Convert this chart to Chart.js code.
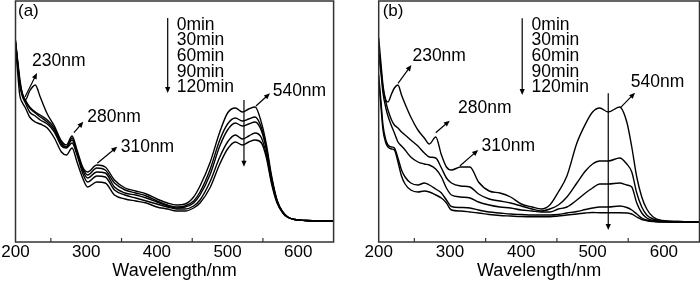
<!DOCTYPE html>
<html>
<head>
<meta charset="utf-8">
<script src="https://cdn.jsdelivr.net/npm/chart.js@4.4.1/dist/chart.umd.min.js"></script>
<style>
  html, body { margin: 0; padding: 0; background: #fff; }
  #wrap { position: relative; width: 700px; height: 282px; }
  .panel { position: absolute; top: 0; width: 350px; height: 282px; }
</style>
</head>
<body>
<div id="wrap">
  <div class="panel" style="left:0"><canvas id="graficoA" width="350" height="282"></canvas></div>
  <div class="panel" style="left:350px"><canvas id="graficoB" width="350" height="282"></canvas></div>
</div>
<script>
// legend / time labels
const timeLabels = ["0min", "30min", "60min", "90min", "120min"];
const xTicks = [200, 300, 400, 500, 600];
const minorTicks = [250, 350, 450, 550];

// panel (a) wavelengths (nm) and absorbance (arb. units)
const wavelengthsA = [200, 203, 206, 210, 214, 220, 228, 235, 245, 255, 265, 272, 280, 287, 295, 302, 315, 327, 340, 355, 370, 385, 400, 415, 428, 440, 452, 461, 475, 489, 500, 511, 521, 530, 539, 548, 555, 562, 570, 578, 585, 595, 610, 630, 650];
const absA0 = [2.02, 1.82, 1.64, 1.47, 1.42, 1.51, 1.57, 1.45, 1.28, 1.16, 1.01, 0.97, 1.06, 0.92, 0.75, 0.70, 0.77, 0.75, 0.62, 0.54, 0.51, 0.48, 0.43, 0.39, 0.37, 0.38, 0.45, 0.56, 0.79, 1.10, 1.29, 1.34, 1.30, 1.33, 1.35, 1.19, 0.97, 0.67, 0.42, 0.30, 0.25, 0.225, 0.215, 0.21, 0.21];
const absA30 = [2.00, 1.80, 1.60, 1.48, 1.42, 1.35, 1.30, 1.27, 1.22, 1.14, 0.99, 0.95, 1.04, 0.90, 0.74, 0.67, 0.74, 0.72, 0.59, 0.52, 0.49, 0.46, 0.41, 0.37, 0.35, 0.36, 0.41, 0.50, 0.72, 1.02, 1.18, 1.24, 1.21, 1.23, 1.25, 1.14, 0.94, 0.65, 0.41, 0.30, 0.25, 0.225, 0.215, 0.21, 0.21];
const absA60 = [2.00, 1.79, 1.59, 1.47, 1.41, 1.34, 1.29, 1.25, 1.20, 1.12, 0.98, 0.95, 1.02, 0.89, 0.72, 0.64, 0.70, 0.69, 0.55, 0.49, 0.47, 0.44, 0.40, 0.36, 0.34, 0.35, 0.39, 0.47, 0.67, 0.96, 1.12, 1.19, 1.16, 1.18, 1.20, 1.11, 0.92, 0.64, 0.41, 0.30, 0.25, 0.225, 0.215, 0.21, 0.21];
const absA90 = [2.00, 1.78, 1.57, 1.45, 1.39, 1.30, 1.26, 1.22, 1.18, 1.10, 0.96, 0.94, 0.99, 0.87, 0.69, 0.60, 0.66, 0.65, 0.52, 0.47, 0.44, 0.41, 0.38, 0.35, 0.33, 0.33, 0.36, 0.42, 0.60, 0.85, 1.00, 1.07, 1.03, 1.06, 1.09, 1.04, 0.87, 0.61, 0.40, 0.295, 0.25, 0.225, 0.215, 0.21, 0.21];
const absA120 = [1.94, 1.70, 1.47, 1.39, 1.34, 1.25, 1.20, 1.18, 1.14, 1.04, 0.90, 0.87, 0.94, 0.80, 0.64, 0.55, 0.60, 0.59, 0.47, 0.43, 0.41, 0.39, 0.35, 0.33, 0.31, 0.31, 0.34, 0.39, 0.54, 0.78, 0.93, 1.00, 0.97, 1.00, 1.02, 0.99, 0.84, 0.59, 0.39, 0.29, 0.245, 0.225, 0.215, 0.21, 0.21];

// panel (b)
const wavelengthsB = [200, 203, 206, 210, 213, 218, 222, 227, 232, 237, 245, 255, 264, 271, 280, 288, 295, 302, 315, 328, 340, 355, 370, 385, 400, 415, 428, 440, 452, 464, 478, 490, 500, 510, 522, 538, 548, 555, 562, 569, 576, 585, 598, 620, 650];
const absB0 = [2.04, 1.80, 1.57, 1.42, 1.40, 1.48, 1.54, 1.57, 1.47, 1.38, 1.25, 1.12, 1.04, 0.98, 1.05, 0.87, 0.75, 0.72, 0.75, 0.75, 0.60, 0.51, 0.49, 0.45, 0.38, 0.35, 0.33, 0.37, 0.50, 0.66, 0.99, 1.18, 1.30, 1.34, 1.30, 1.35, 1.20, 0.95, 0.65, 0.45, 0.33, 0.25, 0.215, 0.205, 0.20];
const absB30 = [1.92, 1.74, 1.54, 1.40, 1.32, 1.22, 1.17, 1.14, 1.10, 1.07, 1.02, 0.96, 0.89, 0.85, 0.84, 0.74, 0.64, 0.59, 0.56, 0.55, 0.48, 0.43, 0.41, 0.39, 0.36, 0.33, 0.31, 0.33, 0.37, 0.45, 0.59, 0.71, 0.78, 0.81, 0.81, 0.84, 0.78, 0.70, 0.49, 0.35, 0.27, 0.23, 0.21, 0.205, 0.20];
const absB60 = [1.87, 1.70, 1.49, 1.34, 1.26, 1.16, 1.09, 1.00, 0.96, 0.92, 0.85, 0.80, 0.78, 0.77, 0.73, 0.65, 0.54, 0.47, 0.45, 0.44, 0.40, 0.37, 0.35, 0.34, 0.32, 0.31, 0.30, 0.30, 0.33, 0.35, 0.42, 0.49, 0.54, 0.58, 0.58, 0.59, 0.57, 0.55, 0.39, 0.29, 0.24, 0.215, 0.205, 0.20, 0.20];
const absB90 = [1.67, 1.42, 1.17, 1.02, 0.97, 0.95, 0.94, 0.84, 0.72, 0.65, 0.59, 0.57, 0.59, 0.57, 0.53, 0.49, 0.42, 0.355, 0.345, 0.34, 0.32, 0.30, 0.29, 0.28, 0.275, 0.27, 0.27, 0.27, 0.275, 0.29, 0.305, 0.325, 0.34, 0.35, 0.35, 0.36, 0.345, 0.32, 0.28, 0.24, 0.22, 0.207, 0.202, 0.20, 0.20];
const absB120 = [1.62, 1.37, 1.12, 0.99, 0.95, 0.93, 0.92, 0.80, 0.66, 0.58, 0.52, 0.50, 0.51, 0.50, 0.47, 0.44, 0.39, 0.32, 0.31, 0.30, 0.29, 0.275, 0.265, 0.26, 0.255, 0.253, 0.253, 0.253, 0.26, 0.27, 0.28, 0.29, 0.295, 0.293, 0.293, 0.293, 0.29, 0.28, 0.25, 0.225, 0.213, 0.205, 0.20, 0.20, 0.20];

// annotations, in data units (wavelength, absorbance)
const notasA = {
  tag: { text: "(a)", x: 203.5, y: 2.31 },
  labels: [
    { text: "230nm", x: 223.3, y: 1.81 },
    { text: "280nm", x: 301.6, y: 1.25 },
    { text: "310nm", x: 348.8, y: 0.945 },
    { text: "540nm", x: 563.8, y: 1.51 },
  ],
  arrows: [
    [213.4, 1.45, 230.4, 1.69],
    [282.7, 1.093, 295.9, 1.203],
    [315.7, 0.787, 344, 0.953],
    [540.2, 1.36, 560, 1.487],
    [523.2, 1.42, 523.2, 0.753],
  ],
  legend: { x: 428, y: 2.17, arrowX: 415.3, arrowTop: 2.24, arrowBottom: 1.49 },
};
const notasB = {
  tag: { text: "(b)", x: 205.6, y: 2.305 },
  labels: [
    { text: "230nm", x: 247.3, y: 1.86 },
    { text: "280nm", x: 311.4, y: 1.335 },
    { text: "310nm", x: 344.2, y: 0.96 },
    { text: "540nm", x: 553.5, y: 1.595 },
  ],
  arrows: [
    [227.1, 1.587, 245.9, 1.77],
    [280, 1.093, 299.7, 1.213],
    [313.8, 0.76, 339.5, 0.92],
    [539.5, 1.347, 559.6, 1.493],
    [522, 1.487, 522, 0.12],
  ],
  legend: { x: 414.5, y: 2.17, arrowX: 401.3, arrowTop: 2.237, arrowBottom: 1.47 },
};

Chart.defaults.font.family = "'Liberation Sans', Arial, sans-serif";
Chart.defaults.color = "#000";

function desenharSeta(ctx, x1, y1, x2, y2) {
  const ang = Math.atan2(y2 - y1, x2 - x1);
  const len = 6, half = 2.6;
  ctx.beginPath();
  ctx.moveTo(x1, y1);
  ctx.lineTo(x2 - Math.cos(ang) * len * 0.8, y2 - Math.sin(ang) * len * 0.8);
  ctx.stroke();
  ctx.beginPath();
  ctx.moveTo(x2, y2);
  ctx.lineTo(x2 - Math.cos(ang) * len - Math.sin(ang) * half, y2 - Math.sin(ang) * len + Math.cos(ang) * half);
  ctx.lineTo(x2 - Math.cos(ang) * len + Math.sin(ang) * half, y2 - Math.sin(ang) * len - Math.cos(ang) * half);
  ctx.closePath();
  ctx.fill();
}

const pluginMoldura = {
  id: "moldura",
  afterDraw(chart, args, opts) {
    const { ctx, chartArea: a } = chart;
    const x = chart.scales.x, y = chart.scales.y;
    ctx.save();
    ctx.strokeStyle = "#333";
    ctx.lineWidth = 1.5;
    ctx.strokeRect(a.left, a.top, a.right - a.left, a.bottom - a.top);
    ctx.lineWidth = 1.2;
    minorTicks.forEach((v) => {
      const px = x.getPixelForValue(v);
      ctx.beginPath();
      ctx.moveTo(px, a.bottom);
      ctx.lineTo(px, a.bottom - 4);
      ctx.stroke();
    });

    const notas = opts.notas;
    ctx.fillStyle = "#000";
    ctx.strokeStyle = "#000";
    ctx.lineWidth = 1.2;
    ctx.textBaseline = "middle";
    ctx.textAlign = "left";
    ctx.font = "17px 'Liberation Sans', Arial, sans-serif";
    ctx.fillText(notas.tag.text, x.getPixelForValue(notas.tag.x), y.getPixelForValue(notas.tag.y));
    ctx.font = "17.5px 'Liberation Sans', Arial, sans-serif";
    notas.labels.forEach((l) => {
      ctx.fillText(l.text, x.getPixelForValue(l.x), y.getPixelForValue(l.y));
    });
    notas.arrows.forEach((s) => {
      desenharSeta(ctx, x.getPixelForValue(s[0]), y.getPixelForValue(s[1]),
        x.getPixelForValue(s[2]), y.getPixelForValue(s[3]));
    });
    const lg = notas.legend;
    const y0 = y.getPixelForValue(lg.y);
    timeLabels.forEach((t, i) => {
      ctx.fillText(t, x.getPixelForValue(lg.x), y0 + i * 15.6);
    });
    const ax = x.getPixelForValue(lg.arrowX);
    desenharSeta(ctx, ax, y.getPixelForValue(lg.arrowTop), ax, y.getPixelForValue(lg.arrowBottom));
    ctx.restore();
  },
};

function criarGrafico(canvasId, wavelengths, series, notas, padLeft, padRight) {
  const ctx = document.getElementById(canvasId).getContext("2d");
  return new Chart(ctx, {
    type: "line",
    data: {
      datasets: series.map((vals, i) => ({
        label: timeLabels[i],
        data: wavelengths.map((w, j) => ({ x: w, y: vals[j] })),
        borderColor: "#000",
        borderWidth: 1.4,
        pointRadius: 0,
        fill: false,
        cubicInterpolationMode: "monotone",
      })),
    },
    options: {
      responsive: false,
      animation: false,
      devicePixelRatio: 1,
      layout: { autoPadding: false, padding: { left: padLeft, right: padRight, top: 1, bottom: 0 } },
      plugins: {
        legend: { display: false },
        tooltip: { enabled: false },
        moldura: { notas: notas },
      },
      scales: {
        x: {
          type: "linear",
          min: 200,
          max: 650,
          afterFit: (s) => { s.height = 40; },
          afterBuildTicks: (s) => { s.ticks = xTicks.map((v) => ({ value: v })); },
          grid: { display: false, drawTicks: false },
          border: { display: false },
          ticks: { font: { size: 17 }, color: "#000", padding: 0, maxRotation: 0, autoSkip: false },
          title: { display: true, text: "Wavelength/nm", font: { size: 18 }, color: "#000", padding: 0 },
        },
        y: { display: false, min: 0, max: 2.41 },
      },
    },
    plugins: [pluginMoldura],
  });
}

criarGrafico("graficoA", wavelengthsA, [absA0, absA30, absA60, absA90, absA120], notasA, 15.5, 16.4);
criarGrafico("graficoB", wavelengthsB, [absB0, absB30, absB60, absB90, absB120], notasB, 28.7, 0.5);
</script>
</body>
</html>
